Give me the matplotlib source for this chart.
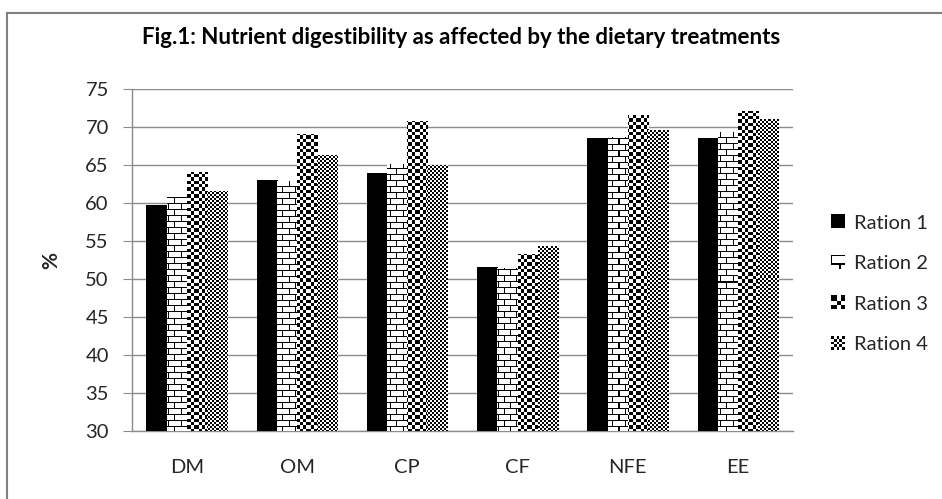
import numpy as np
import matplotlib.pyplot as plt
from matplotlib.legend_handler import HandlerBase
from matplotlib.image import BboxImage
from matplotlib.transforms import Bbox, TransformedBbox
from matplotlib.lines import Line2D

# values
categories = ['DM', 'OM', 'CP', 'CF', 'NFE', 'EE']
ration1 = [59.7, 63.0, 63.9, 51.5, 68.5, 68.5]
ration2 = [60.7, 62.9, 65.1, 51.4, 68.7, 69.3]
ration3 = [64.1, 69.0, 70.7, 53.3, 71.5, 72.1]
ration4 = [61.6, 66.3, 65.0, 54.3, 69.6, 71.0]
series_names = ['Ration 1', 'Ration 2', 'Ration 3', 'Ration 4']
yticks = list(range(30, 80, 5))

plt.rcParams['font.family'] = ['Lato', 'DejaVu Sans']


# Excel-like fill patterns (0 = black, 1 = white), anchored on figure pixels
def solid(i, j):
    return np.zeros(i.shape)


def brick(i, j):
    r = i % 12
    c = j % 12
    line = (r == 0) | (r == 6)
    vert = np.where(r < 6, c == 0, c == 6)
    return np.where(line | vert, 0.0, 1.0)


def big_checker(i, j):
    return (((i // 3.4) + (j // 3.4)) % 2).astype(float)


def small_checker(i, j):
    return (((i // 2) + (j // 2)) % 2).astype(float)


patterns = [solid, brick, big_checker, small_checker]

fig = plt.figure(figsize=(9.42, 4.99), dpi=100)
ax = fig.add_axes([0.1398, 0.1363, 0.7022, 0.6847])
H = 499

x = np.arange(len(categories))
w = 0.183
ax.set_xlim(-0.5, len(categories) - 0.5)
ax.set_ylim(30, 75)

all_series = [ration1, ration2, ration3, ration4]
for k, vals in enumerate(all_series):
    bars = ax.bar(x + (k - 1.5) * w, vals, w, bottom=0, color='white',
                  linewidth=0, zorder=2)
    for b in bars:
        x0, y0 = ax.transData.transform((b.get_x(), 30))
        x1, y1 = ax.transData.transform((b.get_x() + b.get_width(), b.get_height()))
        top = int(round(H - y1))
        bot = int(round(H - y0))
        left = int(round(x0))
        right = int(round(x1))
        i, j = np.mgrid[top:bot, left:right]
        tex = patterns[k](i, j)
        ax.imshow(tex, cmap='gray', vmin=0, vmax=1, interpolation='nearest',
                  extent=(b.get_x(), b.get_x() + b.get_width(), 30, b.get_height()),
                  aspect='auto', zorder=3)

ax.set_xlim(-0.5, len(categories) - 0.5)
ax.set_ylim(30, 75)
ax.set_yticks(yticks)
ax.set_xticks(x)
ax.set_xticklabels(categories)
ax.yaxis.grid(True, color='#8c8c8c', linewidth=1.0)
ax.set_axisbelow(True)
for s in ['top', 'right']:
    ax.spines[s].set_visible(False)
for s in ['left', 'bottom']:
    ax.spines[s].set_color('#8c8c8c')
    ax.spines[s].set_linewidth(1.0)
ax.tick_params(axis='y', length=6.5, color='#8c8c8c', pad=10, labelsize=14.5,
               labelcolor='#262626')
ax.tick_params(axis='x', length=0, pad=20, labelsize=14.5, labelcolor='#262626')
ax.set_ylabel('%', fontsize=15, fontweight='bold', labelpad=17, color='#262626')

fig.text(0.49, 1 - 37 / H, 'Fig.1: Nutrient digestibility as affected by the dietary treatments',
         ha='center', va='center', fontsize=16, fontweight='bold', color='black')


# legend icons drawn with the same textures
class TextureHandler(HandlerBase):
    def __init__(self, func):
        super().__init__()
        self.func = func

    def create_artists(self, legend, orig_handle, xdescent, ydescent,
                       width, height, fontsize, trans):
        s = height
        bb = Bbox.from_bounds(-xdescent + width - s, -ydescent, s, s)
        n = 10
        i, j = np.mgrid[0:n, 0:n]
        img = BboxImage(TransformedBbox(bb, trans), cmap='gray',
                        norm=plt.Normalize(0, 1), interpolation='nearest')
        img.set_data(self.func(i, j))
        return [img]


handles = [Line2D([], []) for _ in series_names]
hmap = {h: TextureHandler(p) for h, p in zip(handles, patterns)}
fig.legend(handles, series_names, handler_map=hmap, loc='center left',
           bbox_to_anchor=(0.872, 1 - 284 / H), frameon=False, fontsize=14.5,
           handlelength=0.65, handleheight=0.65, handletextpad=0.45,
           labelspacing=1.17, borderpad=0, labelcolor='#262626')

# chart border (left and top edges visible in the reference)
fig.add_artist(Line2D([7 / 942, 7 / 942], [0, 1 - 13 / H], color='#808080', linewidth=1.5))
fig.add_artist(Line2D([7 / 942, 1], [1 - 13 / H, 1 - 13 / H], color='#808080', linewidth=1.5))

fig.savefig('out.png', dpi=100)
